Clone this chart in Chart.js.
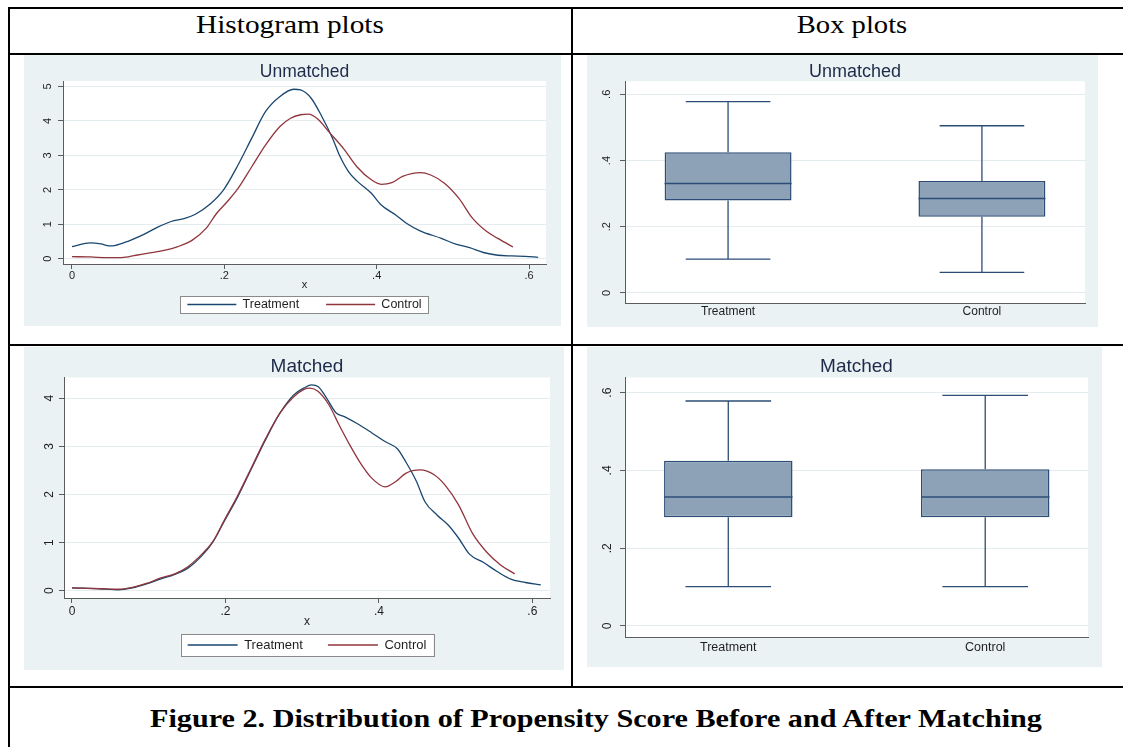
<!DOCTYPE html>
<html>
<head>
<meta charset="utf-8">
<script src="https://cdn.jsdelivr.net/npm/chart.js@4.4.0/dist/chart.umd.min.js"></script>
<style>
  html, body { margin: 0; padding: 0; background: #fff; }
  body { width: 1123px; height: 747px; position: relative; overflow: hidden; }
  .rule { position: absolute; background: #000; }
  .panel { position: absolute; background: #eaf2f3; }
  .panel canvas { display: block; }
  .cell-text { position: absolute; white-space: nowrap; font-family: "Liberation Serif", "DejaVu Serif", serif; color: #000; height: 30px; line-height: 30px; font-size: 26px; transform-origin: 50% 50%; }
</style>
</head>
<body>
<!-- table rules -->
<div class="rule" style="left:8px;top:7px;width:1115px;height:2px"></div>
<div class="rule" style="left:8px;top:7px;width:2px;height:740px"></div>
<div class="rule" style="left:8px;top:53px;width:1115px;height:2px"></div>
<div class="rule" style="left:571px;top:7px;width:2px;height:681px"></div>
<div class="rule" style="left:8px;top:344px;width:1115px;height:2px"></div>
<div class="rule" style="left:8px;top:686px;width:1115px;height:2px"></div>

<div class="cell-text" id="headHist" style="left:290px;top:10px">Histogram plots</div>
<div class="cell-text" id="headBox" style="left:852px;top:10px">Box plots</div>
<div class="cell-text" id="caption" style="left:596px;top:704px;font-weight:bold">Figure 2. Distribution of Propensity Score Before and After Matching</div>

<div class="panel" style="left:24px;top:55px;width:537px;height:271px"><canvas id="histUnmatched" width="537" height="271"></canvas></div>
<div class="panel" style="left:587px;top:55px;width:511px;height:272px"><canvas id="boxUnmatched" width="511" height="272"></canvas></div>
<div class="panel" style="left:24px;top:347px;width:540px;height:323px"><canvas id="histMatched" width="540" height="323"></canvas></div>
<div class="panel" style="left:587px;top:347px;width:515px;height:320px"><canvas id="boxMatched" width="515" height="320"></canvas></div>

<script>
// density curves, unmatched sample
const unmatchedTreatX = [0, 0.024, 0.038, 0.049, 0.056, 0.075, 0.093, 0.112, 0.130, 0.148, 0.162, 0.181, 0.199, 0.218, 0.236, 0.254, 0.273, 0.291, 0.300, 0.314, 0.328, 0.342, 0.351, 0.363, 0.374, 0.393, 0.406, 0.425, 0.439, 0.457, 0.485, 0.503, 0.522, 0.540, 0.559, 0.577, 0.595, 0.612];
const unmatchedTreatY = [0.35, 0.46, 0.43, 0.37, 0.38, 0.52, 0.69, 0.91, 1.08, 1.17, 1.29, 1.58, 2.00, 2.72, 3.50, 4.27, 4.71, 4.92, 4.90, 4.66, 4.13, 3.50, 3.01, 2.53, 2.26, 1.90, 1.56, 1.27, 1.03, 0.81, 0.59, 0.43, 0.32, 0.18, 0.10, 0.08, 0.07, 0.04];
const unmatchedCtrlX = [0, 0.024, 0.047, 0.065, 0.084, 0.102, 0.121, 0.139, 0.158, 0.176, 0.190, 0.204, 0.218, 0.236, 0.254, 0.273, 0.287, 0.300, 0.310, 0.323, 0.337, 0.356, 0.374, 0.393, 0.406, 0.420, 0.434, 0.457, 0.471, 0.489, 0.508, 0.526, 0.545, 0.559, 0.579];
const unmatchedCtrlY = [0.06, 0.05, 0.03, 0.03, 0.10, 0.17, 0.24, 0.35, 0.54, 0.88, 1.32, 1.66, 2.04, 2.67, 3.30, 3.84, 4.08, 4.18, 4.20, 4.05, 3.69, 3.21, 2.67, 2.29, 2.16, 2.21, 2.39, 2.50, 2.43, 2.19, 1.75, 1.17, 0.78, 0.59, 0.34];

// density curves, matched sample
const matchedTreatX = [0, 0.037, 0.060, 0.079, 0.097, 0.115, 0.134, 0.152, 0.170, 0.184, 0.198, 0.216, 0.234, 0.252, 0.271, 0.289, 0.303, 0.312, 0.321, 0.332, 0.344, 0.355, 0.371, 0.390, 0.408, 0.424, 0.435, 0.449, 0.460, 0.476, 0.490, 0.504, 0.518, 0.536, 0.554, 0.572, 0.591, 0.611];
const matchedTreatY = [0.06, 0.04, 0.02, 0.06, 0.14, 0.24, 0.34, 0.48, 0.74, 1.02, 1.43, 1.95, 2.54, 3.13, 3.69, 4.07, 4.22, 4.28, 4.24, 4.00, 3.70, 3.62, 3.48, 3.29, 3.10, 2.95, 2.68, 2.27, 1.85, 1.57, 1.37, 1.09, 0.76, 0.59, 0.40, 0.24, 0.17, 0.12];
const matchedCtrlX = [0, 0.037, 0.060, 0.079, 0.097, 0.115, 0.134, 0.152, 0.170, 0.184, 0.198, 0.216, 0.234, 0.252, 0.271, 0.289, 0.303, 0.310, 0.321, 0.335, 0.348, 0.362, 0.376, 0.390, 0.408, 0.422, 0.435, 0.454, 0.472, 0.486, 0.504, 0.522, 0.540, 0.559, 0.577];
const matchedCtrlY = [0.06, 0.04, 0.03, 0.07, 0.15, 0.26, 0.35, 0.51, 0.77, 1.03, 1.45, 1.98, 2.56, 3.15, 3.69, 4.03, 4.19, 4.21, 4.14, 3.86, 3.45, 3.03, 2.65, 2.35, 2.16, 2.27, 2.44, 2.51, 2.41, 2.20, 1.78, 1.19, 0.81, 0.53, 0.35];

// box plots: Treatment, Control
const boxCategories = ['Treatment', 'Control'];
const boxPositions = [1, 2];
const unmatchedMin = [0.102, 0.0625];
const unmatchedQ1 = [0.279, 0.230];
const unmatchedMedian = [0.331, 0.285];
const unmatchedQ3 = [0.425, 0.338];
const unmatchedMax = [0.578, 0.505];
const matchedMin = [0.101, 0.101];
const matchedQ1 = [0.2795, 0.2795];
const matchedMedian = [0.332, 0.332];
const matchedQ3 = [0.425, 0.403];
const matchedMax = [0.5786, 0.593];

// tick labels
const densityXTicks = [0, 0.2, 0.4, 0.6];
const unmatchedDensityYTicks = [0, 1, 2, 3, 4, 5];
const matchedDensityYTicks = [0, 1, 2, 3, 4];
const boxYTicks = [0, 0.2, 0.4, 0.6];

Chart.defaults.font.family = '"Liberation Sans", Arial, Helvetica, sans-serif';
Chart.defaults.color = '#1f1f1f';
Chart.defaults.animation = false;

const navy = '#1a476f';
const maroon = '#90353b';
const titleCol = '#1e2a4a';
const gridCol = '#e4ecef';
const axisCol = '#5c5c5c';
const boxFill = '#8ea2b7';
const boxLine = '#2c4e76';

function fmtTick(v) {
  if (v === 0) return '0';
  return String(+v.toFixed(2)).replace(/^0\./, '.');
}

// white plot region + bordered legend box
const panelBg = {
  id: 'panelBg',
  afterLayout(chart, args, opts) {
    // the legend sits a bit closer to the axis than Chart.js puts it
    if (opts.legendShift && chart.legend) {
      chart.legend.top += opts.legendShift;
      chart.legend.bottom += opts.legendShift;
    }
  },
  beforeDraw(chart, args, opts) {
    const ctx = chart.ctx, a = chart.chartArea;
    ctx.save();
    ctx.fillStyle = '#fff';
    ctx.fillRect(a.left, a.top, a.right - a.left, a.bottom - a.top);
    const lg = chart.legend;
    if (lg && lg.options.display && lg.legendHitBoxes && lg.legendHitBoxes.length) {
      const hb = lg.legendHitBoxes;
      const x0 = Math.min(...hb.map(h => h.left)) - opts.padX;
      const x1 = Math.max(...hb.map(h => h.left + h.width)) + opts.padX;
      const y0 = Math.min(...hb.map(h => h.top)) - opts.padY;
      const y1 = Math.max(...hb.map(h => h.top + h.height)) + opts.padY;
      ctx.fillRect(x0, y0, x1 - x0, y1 - y0);
      ctx.strokeStyle = '#8a8a8a';
      ctx.lineWidth = 1;
      ctx.strokeRect(Math.round(x0) + 0.5, Math.round(y0) + 0.5, Math.round(x1 - x0), Math.round(y1 - y0));
    }
    ctx.restore();
  }
};

// Stata style vertical y tick labels
const yLabels = {
  id: 'yLabels',
  afterDraw(chart, args, opts) {
    const s = chart.scales.y, ctx = chart.ctx;
    ctx.save();
    ctx.font = opts.size + 'px ' + Chart.defaults.font.family;
    ctx.fillStyle = '#1f1f1f';
    ctx.textAlign = 'center';
    ctx.textBaseline = 'middle';
    s.ticks.forEach(t => {
      ctx.save();
      ctx.translate(chart.chartArea.left - opts.offset, s.getPixelForValue(t.value));
      ctx.rotate(-Math.PI / 2);
      ctx.fillText(fmtTick(t.value), 0, 0);
      ctx.restore();
    });
    ctx.restore();
  }
};

// whiskers, caps and median for the floating-bar boxes
const boxWhiskers = {
  id: 'boxWhiskers',
  afterDatasetsDraw(chart, args, opts) {
    const ctx = chart.ctx, x = chart.scales.x, y = chart.scales.y;
    const meta = chart.getDatasetMeta(0);
    ctx.save();
    ctx.strokeStyle = boxLine;
    boxPositions.forEach((p, i) => {
      const cx = x.getPixelForValue(p);
      const w = meta.data[i].width;
      const lo = y.getPixelForValue(opts.min[i]);
      const q1 = y.getPixelForValue(opts.q1[i]);
      const md = y.getPixelForValue(opts.median[i]);
      const q3 = y.getPixelForValue(opts.q3[i]);
      const hi = y.getPixelForValue(opts.max[i]);
      ctx.lineWidth = 1.3;
      ctx.beginPath();
      ctx.moveTo(cx, q3); ctx.lineTo(cx, hi);
      ctx.moveTo(cx, q1); ctx.lineTo(cx, lo);
      ctx.moveTo(cx - w / 3, hi); ctx.lineTo(cx + w / 3, hi);
      ctx.moveTo(cx - w / 3, lo); ctx.lineTo(cx + w / 3, lo);
      ctx.stroke();
      ctx.lineWidth = 1.5;
      ctx.beginPath();
      ctx.moveTo(cx - w / 2, md); ctx.lineTo(cx + w / 2, md);
      ctx.stroke();
    });
    ctx.restore();
  }
};

function yAxis(L, ticks) {
  return {
    min: L.yMin, max: L.yMax,
    afterBuildTicks: s => { s.ticks = ticks.map(v => ({value: v})); },
    afterFit: s => { s.width = L.yAxisW; },
    ticks: {callback: fmtTick, color: 'rgba(0,0,0,0)', font: {size: L.yTickSize}},
    grid: {color: gridCol, tickColor: axisCol, tickLength: 5, drawTicks: true},
    border: {display: true, color: axisCol, width: 1}
  };
}

function titleOpts(L) {
  return {display: true, text: L.title, color: titleCol, fullSize: false,
    font: {size: L.titleSize, weight: 'normal'}, padding: {top: L.titleTop, bottom: L.titleBottom}};
}

function densityChart(id, L, treatX, treatY, ctrlX, ctrlY, yTicks) {
  const pts = (xs, ys) => xs.map((v, i) => ({x: v, y: ys[i]}));
  return new Chart(document.getElementById(id), {
    type: 'line',
    data: {
      datasets: [
        {label: 'Treatment', data: pts(treatX, treatY), borderColor: navy, backgroundColor: navy,
          borderWidth: 1.3, pointRadius: 0, cubicInterpolationMode: 'monotone', order: 1},
        {label: 'Control', data: pts(ctrlX, ctrlY), borderColor: maroon, backgroundColor: maroon,
          borderWidth: 1.3, pointRadius: 0, cubicInterpolationMode: 'monotone', order: 0}
      ]
    },
    options: {
      responsive: false,
      animation: false,
      layout: {padding: {left: 0, top: 0, right: L.padRight, bottom: L.padBottom}},
      plugins: {
        title: titleOpts(L),
        legend: {
          display: true, position: 'bottom', fullSize: false, maxHeight: L.legendGap + L.legendSize,
          labels: {
            usePointStyle: true, pointStyle: 'line', pointStyleWidth: L.sample,
            font: {size: L.legendSize}, color: '#1f1f1f', padding: L.legendGap,
            sort: (a, b) => a.datasetIndex - b.datasetIndex
          }
        },
        tooltip: {enabled: false},
        panelBg: {padX: L.boxPadX, padY: L.boxPadY, legendShift: L.legendShift},
        yLabels: {size: L.yTickSize, offset: L.yLabelOffset}
      },
      scales: {
        x: {
          type: 'linear', min: L.xMin, max: L.xMax,
          afterBuildTicks: s => { s.ticks = densityXTicks.map(v => ({value: v})); },
          afterFit: s => { s.height = L.xAxisH; },
          ticks: {callback: fmtTick, font: {size: L.xTickSize}, color: '#1f1f1f', padding: L.xTickPad, maxRotation: 0},
          grid: {drawOnChartArea: false, drawTicks: true, tickLength: 5, tickColor: axisCol},
          border: {display: true, color: axisCol, width: 1},
          title: {display: true, text: 'x', font: {size: L.xTickSize}, color: '#1f1f1f', padding: {top: 0, bottom: L.xTitlePad}}
        },
        y: yAxis(L, yTicks)
      }
    },
    plugins: [panelBg, yLabels]
  });
}

function boxChart(id, L, mins, q1s, meds, q3s, maxs) {
  return new Chart(document.getElementById(id), {
    type: 'bar',
    data: {
      datasets: [{
        data: boxPositions.map((p, i) => ({x: p, y: [q1s[i], q3s[i]]})),
        backgroundColor: boxFill, borderColor: boxLine, borderWidth: 1.5, borderSkipped: false,
        barPercentage: 0.5, categoryPercentage: 1
      }]
    },
    options: {
      responsive: false,
      animation: false,
      layout: {padding: {left: 0, top: 0, right: L.padRight, bottom: 0}},
      plugins: {
        title: titleOpts(L),
        legend: {display: false},
        tooltip: {enabled: false},
        panelBg: {padX: 0, padY: 0},
        yLabels: {size: L.yTickSize, offset: L.yLabelOffset},
        boxWhiskers: {min: mins, q1: q1s, median: meds, q3: q3s, max: maxs}
      },
      scales: {
        x: {
          type: 'linear', min: L.xMin, max: L.xMax, offset: false,
          afterBuildTicks: s => { s.ticks = boxPositions.map(v => ({value: v})); },
          afterFit: s => { s.height = L.xAxisH; },
          ticks: {callback: v => boxCategories[boxPositions.indexOf(v)], font: {size: L.xTickSize}, color: '#1f1f1f', padding: L.xTickPad, maxRotation: 0},
          grid: {offset: false, drawOnChartArea: false, drawTicks: false},
          border: {display: true, color: axisCol, width: 1}
        },
        y: yAxis(L, boxYTicks)
      }
    },
    plugins: [panelBg, yLabels, boxWhiskers]
  });
}

densityChart('histUnmatched', {
  title: 'Unmatched', titleSize: 17.5, titleTop: 6.5, titleBottom: -1.5, padRight: 15, padBottom: 3.5,
  xMin: -0.0118, xMax: 0.6223, yMin: -0.154, yMax: 5.16, yAxisW: 39, yTickSize: 11, yLabelOffset: 15,
  xAxisH: 19, xTickSize: 11, xTickPad: 0.5, xTitlePad: -8.6,
  legendSize: 12.5, legendGap: 27, legendShift: -11.75, sample: 49, boxPadX: 7, boxPadY: 2.25
}, unmatchedTreatX, unmatchedTreatY, unmatchedCtrlX, unmatchedCtrlY, unmatchedDensityYTicks);

densityChart('histMatched', {
  title: 'Matched', titleSize: 19, titleTop: 8.6, titleBottom: -0.9, padRight: 14, padBottom: 12,
  xMin: -0.0104, xMax: 0.623, yMin: -0.152, yMax: 4.432, yAxisW: 40, yTickSize: 12, yLabelOffset: 14,
  xAxisH: 22, xTickSize: 12, xTickPad: 1.8, xTitlePad: -9.2,
  legendSize: 13, legendGap: 25, legendShift: -6.5, sample: 50, boxPadX: 7, boxPadY: 4.5
}, matchedTreatX, matchedTreatY, matchedCtrlX, matchedCtrlY, matchedDensityYTicks);

boxChart('boxUnmatched', {
  title: 'Unmatched', titleSize: 18, titleTop: 6.2, titleBottom: -1.6, padRight: 13,
  xMin: 0.594, xMax: 2.406, yMin: -0.0302, yMax: 0.6396, yAxisW: 38, yTickSize: 11, yLabelOffset: 18,
  xAxisH: 24, xTickSize: 12, xTickPad: 1.8
}, unmatchedMin, unmatchedQ1, unmatchedMedian, unmatchedQ3, unmatchedMax);

boxChart('boxMatched', {
  title: 'Matched', titleSize: 19, titleTop: 8.6, titleBottom: -0.9, padRight: 14,
  xMin: 0.598, xMax: 2.400, yMin: -0.0301, yMax: 0.639, yAxisW: 38, yTickSize: 12, yLabelOffset: 17,
  xAxisH: 29.3, xTickSize: 12.5, xTickPad: 2.8
}, matchedMin, matchedQ1, matchedMedian, matchedQ3, matchedMax);

// stretch the table texts to the widths they have in the figure
function fitWidth(id, target) {
  const el = document.getElementById(id);
  el.style.transform = 'translateX(-50%) scaleX(' + (target / el.offsetWidth) + ')';
}
fitWidth('headHist', 188);
fitWidth('headBox', 110);
fitWidth('caption', 892);
</script>
</body>
</html>
